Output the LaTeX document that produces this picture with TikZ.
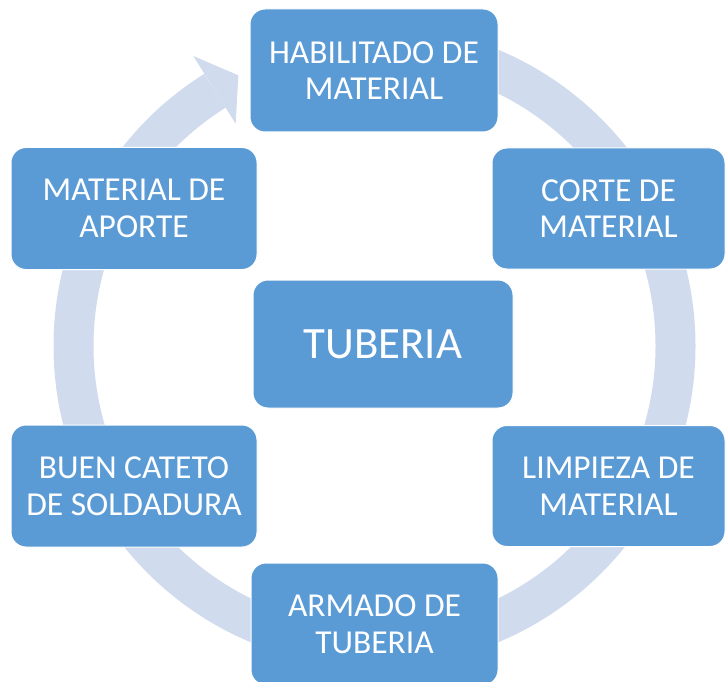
\documentclass[tikz,border=0pt]{standalone}
\usepackage{fontspec}
\setmainfont{Carlito}
\usetikzlibrary{positioning}
\definecolor{cajaazul}{HTML}{5B9BD5}
\definecolor{aroazul}{HTML}{D0DCEE}
\tikzset{
  caja/.style={rectangle, rounded corners=15pt, fill=cajaazul, draw=white, line width=1pt,
    text=white, align=center, inner sep=0pt, font=\fontsize{33.5}{36.7}\selectfont},
}
\begin{document}
\begin{tikzpicture}[x=1pt, y=1pt, line join=round]
  \useasboundingbox (0,0) rectangle (727,681);
  \clip (0,0) rectangle (727,681);
  \coordinate (centro) at (374.5,335);
  % Aro del ciclo
  \draw[aroazul, line width=40pt] ([shift={(90:301)}]centro) arc (90:-238:301);
  % Punta de la flecha
  \fill[aroazul] ([shift={(116.7:303)}]centro) -- ([shift={(122:342)}]centro)
    -- ([shift={(122:262)}]centro) -- cycle;
  % Cajas
  \node[caja, minimum width=248pt, minimum height=123pt] (habilitado) at (374,610.5) {HABILITADO DE\\MATERIAL};
  \node[caja, minimum width=233pt, minimum height=121pt] (corte) at (608.5,472.5) {CORTE DE\\MATERIAL};
  \node[caja, minimum width=233pt, minimum height=121pt] (limpieza) at (608.5,195) {LIMPIEZA DE\\MATERIAL};
  \node[caja, minimum width=247pt, minimum height=122pt] (armado) at (374.5,57) {ARMADO DE\\TUBERIA};
  \node[caja, minimum width=246pt, minimum height=122pt] (cateto) at (134,195) {BUEN CATETO\\DE SOLDADURA};
  \node[caja, minimum width=246pt, minimum height=122pt] (aporte) at (134,472.5) {MATERIAL DE\\APORTE};
  % Caja central
  \node[caja, minimum width=260pt, minimum height=128pt, font=\fontsize{44.8}{48}\selectfont] (tuberia) at (383,337) {TUBERIA};
\end{tikzpicture}
\end{document}
